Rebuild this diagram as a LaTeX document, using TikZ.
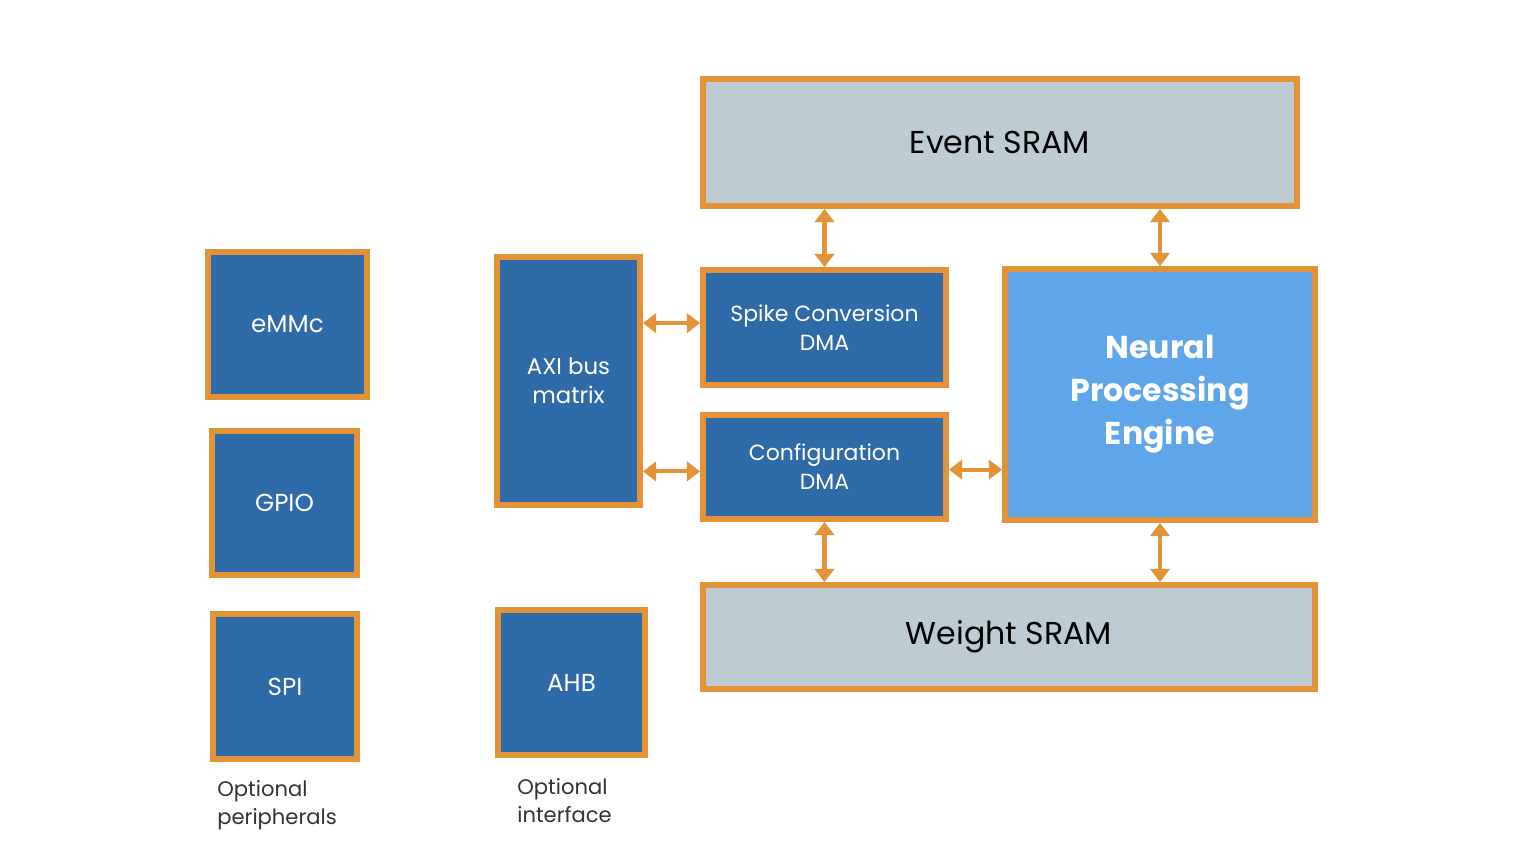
\documentclass[tikz,border=0pt]{standalone}
\usepackage{fontspec}
\setmainfont{Poppins}
\usepackage{xcolor}
\usetikzlibrary{arrows.meta}
\definecolor{edgeorange}{HTML}{E39337}
\definecolor{blkblue}{HTML}{2E6BA8}
\definecolor{npeblue}{HTML}{5EA5EA}
\definecolor{sramgray}{HTML}{BFCBD3}
\definecolor{notegray}{HTML}{333333}

\begin{document}
\begin{tikzpicture}[x=0.02cm, y=-0.02cm,
    blk/.style={rectangle, draw=edgeorange, line width=3.4pt, fill=blkblue,
        text=white, inner sep=0pt, align=center, font=\fontsize{12.5}{16.5}\selectfont},
    mem/.style={blk, fill=sramgray, text=black, font=\fontsize{18}{20}\selectfont},
    link/.style={draw=edgeorange, line width=2.3pt,
        {Triangle[width=11pt, length=7.5pt]}-{Triangle[width=11pt, length=7.5pt]}},
    note/.style={anchor=north west, align=left, text=notegray, inner sep=0pt,
        font=\fontsize{12}{16}\selectfont}]
    \useasboundingbox (0,0) rectangle (1536,850);

    % memories
    \node[mem, minimum width=11.88cm, minimum height=2.54cm] (eventsram) at (1000,142.5) {Event SRAM};
    \node[mem, minimum width=12.24cm, minimum height=2.08cm] (weightsram) at (1009,637) {Weight SRAM};

    % optional peripherals
    \node[blk, minimum width=3.18cm, minimum height=2.90cm, font=\fontsize{14}{16}\selectfont] (emmc) at (287.5,324.5) {eMMc};
    \node[blk, minimum width=2.90cm, minimum height=2.88cm, font=\fontsize{14}{16}\selectfont] (gpio) at (284.5,503) {GPIO};
    \node[blk, minimum width=2.88cm, minimum height=2.90cm, font=\fontsize{14}{16}\selectfont] (spi) at (285,686.5) {SPI};

    % bus and interface
    \node[blk, minimum width=2.86cm, minimum height=4.96cm, font=\fontsize{13}{16.5}\selectfont] (axi) at (568.5,381) {AXI bus\\matrix};
    \node[blk, minimum width=2.94cm, minimum height=2.90cm, font=\fontsize{14}{16}\selectfont] (ahb) at (571.5,682.5) {AHB};

    % DMAs and engine
    \node[blk, minimum width=4.86cm, minimum height=2.30cm] (spikedma) at (824.5,327.5) {Spike Conversion\\DMA};
    \node[blk, minimum width=4.86cm, minimum height=2.08cm] (configdma) at (824.5,467) {Configuration\\DMA};
    \node[blk, fill=npeblue, minimum width=6.20cm, minimum height=5.02cm,
        font=\fontsize{18}{24.5}\selectfont\bfseries] (npe) at (1160,394.5) {Neural\\Processing\\Engine};

    \node[note] (perinote) at (217,780) {Optional\\peripherals};
    \node[note] (ifnote) at (517,778) {Optional\\interface};

    \draw[link] (spikedma.north) -- (spikedma.north |- eventsram.south);
    \draw[link] (npe.north) -- (npe.north |- eventsram.south);
    \draw[link] ([yshift=2.5pt]spikedma.west) -- ([yshift=2.5pt]spikedma.west -| axi.east);
    \draw[link] ([yshift=-2.5pt]configdma.west) -- ([yshift=-2.5pt]configdma.west -| axi.east);
    \draw[link] ([yshift=-1.5pt]configdma.east) -- ([yshift=-1.5pt]configdma.east -| npe.west);
    \draw[link] (configdma.south) -- (configdma.south |- weightsram.north);
    \draw[link] (npe.south) -- (npe.south |- weightsram.north);
\end{tikzpicture}
\end{document}
